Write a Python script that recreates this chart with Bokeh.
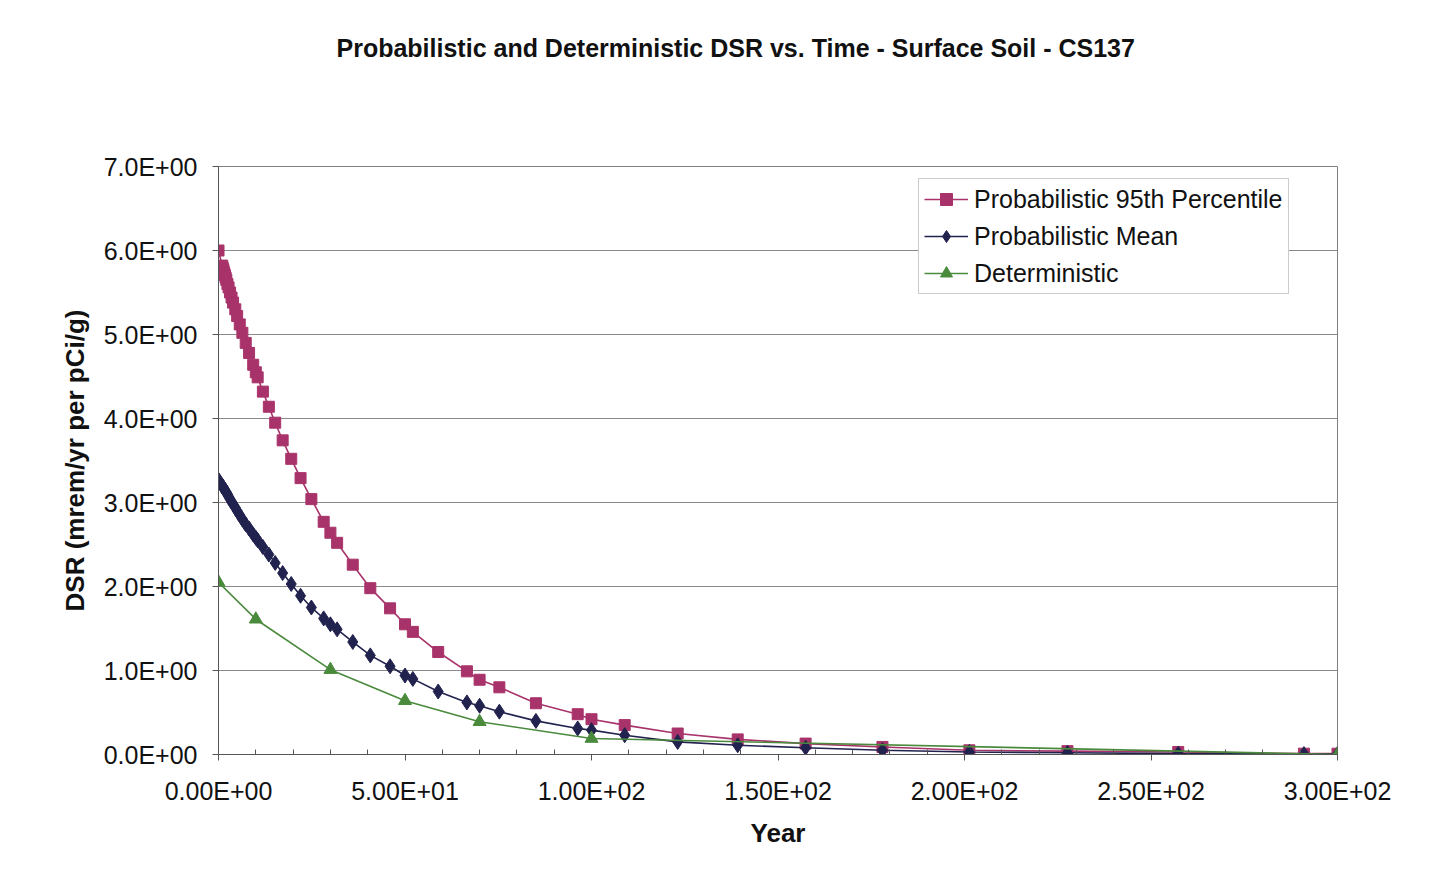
from bokeh.plotting import figure
from bokeh.models import (Range1d, FixedTicker, CustomJSTickFormatter, Legend,
                          LegendItem, Title)
from bokeh.embed import file_html
from bokeh.resources import INLINE

# ---- data ----
years = [0, 1.0, 1.15, 1.3, 1.5, 1.7, 1.9, 2.1, 2.4, 2.7, 3.1, 3.5, 3.9, 4.5, 5.0,
         5.7, 6.4, 7.3, 8.2, 9.3, 10.0, 10.5, 11.9, 13.5, 15.2, 17.2, 19.5, 22.0,
         24.9, 28.2, 30.0, 31.8, 36.0, 40.7, 46.0, 50.0, 52.1, 58.9, 66.6, 70.0,
         75.3, 85.1, 96.3, 100.0, 108.9, 123.1, 139.2, 157.4, 178.0, 201.3, 227.6,
         257.3, 291.0, 300.0]
p95 = [6.00, 5.82, 5.79, 5.77, 5.74, 5.71, 5.68, 5.65, 5.60, 5.56, 5.50, 5.44, 5.38,
       5.30, 5.22, 5.12, 5.02, 4.90, 4.78, 4.64, 4.55, 4.49, 4.32, 4.14, 3.95, 3.74,
       3.52, 3.29, 3.04, 2.77, 2.64, 2.52, 2.26, 1.98, 1.74, 1.55, 1.46, 1.22, 0.99,
       0.89, 0.80, 0.61, 0.48, 0.42, 0.35, 0.25, 0.18, 0.13, 0.09, 0.05, 0.04, 0.03,
       0.01, 0.01]
mean = [3.27, 3.20, 3.19, 3.18, 3.16, 3.15, 3.13, 3.12, 3.10, 3.07, 3.04, 3.01, 2.98,
        2.94, 2.90, 2.85, 2.80, 2.74, 2.69, 2.62, 2.58, 2.55, 2.47, 2.38, 2.28, 2.16,
        2.03, 1.89, 1.75, 1.62, 1.55, 1.49, 1.34, 1.18, 1.05, 0.94, 0.90, 0.75, 0.62,
        0.58, 0.51, 0.40, 0.31, 0.29, 0.23, 0.15, 0.11, 0.08, 0.05, 0.03, 0.02, 0.01,
        0.005, 0.004]
det_years = [0, 10, 30, 50, 70, 100, 300]
det = [2.05, 1.61, 1.01, 0.64, 0.39, 0.19, 0.0]

x_ticks = [0, 50, 100, 150, 200, 250, 300]
x_minor = [10, 20, 30, 40, 60, 70, 80, 90, 110, 120, 130, 140, 160, 170, 180, 190,
           210, 220, 230, 240, 260, 270, 280, 290]
y_ticks = [0, 1, 2, 3, 4, 5, 6, 7]

title_text = "Probabilistic and Deterministic DSR vs. Time - Surface Soil - CS137"
x_title = "Year"
y_title = "DSR (mrem/yr per pCi/g)"
names = ["Probabilistic 95th Percentile", "Probabilistic Mean", "Deterministic"]

PINK = "#A8336A"
NAVY = "#22224F"
GREEN = "#4A8A3C"
FONT = "Liberation Sans"

p = figure(width=1431, height=877, output_backend="svg", toolbar_location=None,
           x_range=Range1d(0, 300), y_range=Range1d(0, 7),
           min_border_left=218, min_border_right=94, min_border_top=166,
           min_border_bottom=123)
p.background_fill_color = "white"
p.border_fill_color = "white"
p.outline_line_color = "#808080"
p.outline_line_width = 1

# grid
p.xgrid.visible = False
p.ygrid.grid_line_color = "#8a8a8a"
p.ygrid.grid_line_width = 1

# formatters
def sci_formatter(dec):
    return CustomJSTickFormatter(code=f"""
        const s = tick.toExponential({dec}).toUpperCase();
        const parts = s.split("E");
        const e = parts[1];
        let d = e.slice(1);
        if (d.length < 2) {{ d = "0" + d; }}
        return parts[0] + "E" + e[0] + d;
    """)

p.xaxis.ticker = FixedTicker(ticks=x_ticks, minor_ticks=x_minor)
p.yaxis.ticker = FixedTicker(ticks=y_ticks)
p.xaxis.formatter = sci_formatter(2)
p.yaxis.formatter = sci_formatter(1)

for ax in (p.xaxis[0], p.yaxis[0]):
    ax.major_label_text_font = FONT
    ax.major_label_text_font_size = "25px"
    ax.major_label_text_color = "#111111"
    ax.axis_label_text_font = FONT
    ax.axis_label_text_font_size = "26px"
    ax.axis_label_text_font_style = "bold"
    ax.axis_label_text_color = "#111111"
    ax.axis_line_color = "#555555"
    ax.major_tick_line_color = "#555555"
    ax.minor_tick_line_color = "#555555"
    ax.major_tick_in = 0
    ax.major_tick_out = 6

p.xaxis.axis_label = x_title
p.yaxis.axis_label = y_title
p.xaxis.minor_tick_in = 5
p.xaxis.minor_tick_out = 0
p.yaxis.minor_tick_line_color = None
p.xaxis.major_label_standoff = 16
p.yaxis.major_label_standoff = 15
p.xaxis.axis_label_standoff = 10
p.yaxis.axis_label_standoff = 11

# series
l1 = p.line(years, p95, line_color=PINK, line_width=1.6)
m1 = p.scatter(years, p95, marker="square", size=11, fill_color=PINK, line_color=PINK)
l2 = p.line(years, mean, line_color=NAVY, line_width=1.6)
m2 = p.scatter(years, mean, marker="diamond", size=15, fill_color=NAVY, line_color=NAVY)
l3 = p.line(det_years, det, line_color=GREEN, line_width=1.6)
m3 = p.scatter(det_years, det, marker="triangle", size=13, fill_color=GREEN, line_color=GREEN)

legend = Legend(items=[LegendItem(label=names[0], renderers=[l1, m1]),
                       LegendItem(label=names[1], renderers=[l2, m2]),
                       LegendItem(label=names[2], renderers=[l3, m3])],
                location=(700, 460))
legend.label_text_font = FONT
legend.label_text_font_size = "25px"
legend.label_text_color = "#111111"
legend.border_line_color = "#9a9a9a"
legend.border_line_width = 1
legend.background_fill_color = "white"
legend.background_fill_alpha = 1
legend.padding = 5
legend.spacing = 7
legend.margin = 0
legend.glyph_width = 44
legend.glyph_height = 30
legend.label_height = 30
legend.label_standoff = 6
p.add_layout(legend)

# spacer panel (closest to the frame) then the real title above it
spacer = Title(text=" ", text_font_size="91px", standoff=0)
p.add_layout(spacer, "above")
title = Title(text=title_text, text_font=FONT, text_font_size="25px",
              text_font_style="bold", align="left", offset=118, text_color="#111111",
              standoff=4)
p.add_layout(title, "above")

open("out.html", "w").write(file_html(p, INLINE))
